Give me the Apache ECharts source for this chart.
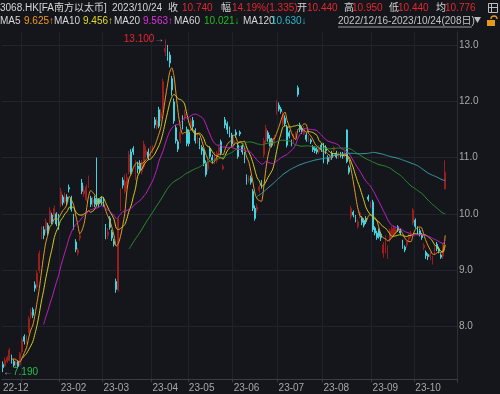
<!DOCTYPE html>
<html><head><meta charset="utf-8">
<script src="https://cdn.jsdelivr.net/npm/echarts@6/dist/echarts.min.js"></script>
<style>html,body{margin:0;padding:0;background:#14161c;}#c{width:500px;height:394px;}</style>
</head><body><div id="c"></div>
<script>
// month labels and number of trading days shown in each month
const monthLabels = ['22-12','23-01','23-02','23-03','23-04','23-05','23-06','23-07','23-08','23-09','23-10'];
const monthDays   = [9, 18, 20, 23, 17, 21, 21, 21, 23, 20, 15];
const hiddenMonthLabels = ['23-01'];
const yTicks = [8, 9, 10, 11, 12, 13];

const openP = [
7.33,7.30,7.38,7.40,7.47,7.38,7.32,7.38,7.32,
7.55,7.82,7.72,7.90,8.20,8.30,8.74,8.70,9.00,9.58,9.72,9.70,9.80,9.85,9.98,9.95,10.00,9.95,
10.18,10.30,10.22,10.30,10.47,10.28,9.95,9.50,9.30,9.57,10.55,10.35,10.25,10.51,10.28,10.20,10.28,10.26,10.24,10.26,
10.26,9.77,9.62,9.92,9.68,9.52,8.80,8.65,10.10,10.60,10.40,10.50,10.75,11.10,11.16,10.64,10.85,10.90,10.75,10.84,11.05,11.10,11.00,
11.14,11.67,11.55,11.85,11.70,11.85,12.88,12.95,12.82,12.40,11.99,11.53,11.28,11.30,11.70,11.70,11.50,
11.45,11.55,11.66,11.48,11.32,11.30,11.18,11.13,10.90,10.80,11.16,11.00,10.92,10.95,11.10,11.28,10.80,11.67,11.60,11.50,11.40,
11.22,11.45,11.22,11.45,11.20,11.05,10.66,10.60,10.64,10.40,10.10,10.07,10.42,10.55,11.05,11.30,11.44,11.34,11.30,11.25,11.81,
11.93,11.86,11.60,11.70,11.54,11.44,11.28,11.30,11.36,12.24,11.58,11.52,11.42,11.40,11.32,11.31,11.19,11.16,11.14,11.10,11.22,
11.22,11.18,11.00,10.96,11.08,11.13,11.08,11.02,11.06,11.05,11.05,11.49,10.82,9.95,10.03,9.95,9.77,9.95,9.93,9.88,9.92,10.30,10.12,
10.21,9.75,9.66,9.71,9.64,9.30,9.40,9.25,9.54,9.63,9.65,9.68,9.77,9.70,9.50,9.41,9.45,9.55,9.62,9.84,
9.89,9.75,9.70,9.62,9.40,9.32,9.28,9.24,9.18,9.34,9.46,9.38,9.27,9.25,10.44
];
const closeP = [
7.27,7.40,7.45,7.58,7.38,7.31,7.36,7.29,7.52,
7.76,7.74,7.80,8.14,8.25,8.20,8.68,8.95,9.30,9.70,9.62,9.86,9.66,10.06,9.86,10.10,9.82,9.78,
10.40,10.20,10.30,10.22,10.44,10.08,9.80,9.37,9.36,9.62,10.40,10.42,10.48,10.60,10.17,10.25,10.17,10.20,10.18,10.20,
10.19,9.58,9.68,9.76,9.57,9.46,8.66,9.92,10.39,10.51,10.57,10.65,11.05,10.74,11.10,10.90,10.80,10.78,10.88,11.24,11.12,11.00,11.14,
11.17,11.58,11.65,11.56,11.80,12.35,12.94,12.80,12.68,12.20,11.65,11.30,11.15,11.45,11.55,11.78,11.25,
11.25,11.65,11.55,11.30,11.36,11.20,11.12,10.90,10.70,10.92,11.02,10.95,11.05,11.08,11.18,11.08,10.84,11.58,11.50,11.40,11.24,
11.30,11.40,11.02,11.42,11.10,10.95,10.56,10.62,10.56,10.10,9.92,10.12,10.48,10.49,11.30,11.52,11.34,11.24,11.22,11.35,11.98,
11.86,11.82,11.78,11.60,11.22,11.38,11.24,11.36,11.40,12.12,11.50,11.46,11.52,11.32,11.36,11.28,11.14,11.12,11.10,11.18,11.14,
10.96,11.12,10.93,11.02,11.00,11.17,11.01,11.06,11.04,11.03,11.08,10.93,10.74,10.10,9.98,9.90,9.86,10.02,9.85,9.80,9.86,10.26,10.19,
9.72,9.66,9.58,9.60,9.58,9.45,9.58,9.40,9.70,9.74,9.76,9.72,9.71,9.66,9.42,9.36,9.50,9.60,9.66,10.07,
9.78,9.68,9.64,9.58,9.44,9.26,9.24,9.28,9.22,9.40,9.38,9.34,9.23,9.405,10.74
];
const lowP = [
7.19,7.28,7.35,7.38,7.34,7.28,7.28,7.26,7.30,
7.52,7.68,7.70,7.88,8.14,8.15,8.62,8.65,8.95,9.55,9.55,9.66,9.62,9.82,9.82,9.90,9.78,9.72,
10.12,10.15,10.18,10.15,10.38,10.04,9.72,9.32,9.26,9.52,10.35,10.30,10.22,10.46,10.12,10.12,10.12,10.14,10.12,10.15,
10.12,9.55,9.55,9.72,9.52,9.42,8.60,8.62,10.05,10.45,10.36,10.45,10.70,10.70,11.05,10.60,10.72,10.72,10.70,10.80,11.00,10.96,10.98,
11.08,11.52,11.50,11.52,11.65,11.80,12.80,12.72,12.60,12.10,11.60,11.25,11.10,11.25,11.50,11.65,11.20,
11.20,11.50,11.50,11.25,11.25,11.15,11.05,10.85,10.66,10.75,10.98,10.90,10.88,10.90,11.05,11.04,10.78,11.52,11.42,11.36,11.20,
11.18,11.35,10.98,11.38,11.05,10.90,10.52,10.55,10.52,10.05,9.88,10.02,10.38,10.45,11.00,11.25,11.28,11.20,11.18,11.20,11.76,
11.82,11.78,11.56,11.55,11.18,11.34,11.20,11.26,11.32,12.08,11.45,11.42,11.40,11.28,11.28,11.24,11.10,11.08,11.06,11.06,11.10,
10.90,11.06,10.88,10.92,10.96,11.10,10.98,10.98,11.00,10.98,11.00,10.90,10.70,9.90,9.94,9.85,9.74,9.92,9.80,9.76,9.82,10.22,10.10,
9.68,9.62,9.54,9.56,9.52,9.22,9.30,9.20,9.50,9.60,9.62,9.64,9.68,9.62,9.38,9.32,9.40,9.52,9.58,9.80,
9.74,9.64,9.60,9.54,9.36,9.20,9.18,9.18,9.10,9.28,9.34,9.30,9.20,9.20,10.44
];
const highP = [
7.38,7.45,7.48,7.62,7.50,7.42,7.40,7.40,7.55,
7.80,7.86,7.84,8.18,8.32,8.34,8.80,9.00,9.35,9.78,9.78,9.92,9.84,10.12,10.02,10.15,10.03,10.00,
10.46,10.34,10.38,10.35,10.52,10.32,10.00,9.55,9.40,9.66,10.62,10.50,10.52,10.68,10.32,10.30,10.32,11.00,10.28,10.30,
10.30,9.82,9.75,9.96,9.72,9.56,8.85,9.95,10.45,10.65,10.70,10.72,11.12,11.15,11.20,10.95,10.92,10.95,10.95,11.30,11.20,11.16,11.20,
11.22,11.72,11.72,11.90,11.86,12.40,13.10,13.00,12.88,12.45,12.05,11.58,11.32,11.50,11.75,11.85,11.55,
11.50,11.70,11.72,11.52,11.42,11.35,11.22,11.16,10.95,10.98,11.20,11.05,11.10,11.12,11.22,11.32,10.88,11.72,11.64,11.55,11.44,
11.36,11.50,11.26,11.48,11.25,11.10,10.70,10.68,10.68,10.44,10.15,10.18,10.52,10.60,11.35,11.58,11.48,11.40,11.35,11.40,12.02,
11.98,11.90,11.82,11.75,11.58,11.48,11.32,11.42,11.46,12.28,11.62,11.56,11.56,11.44,11.40,11.34,11.22,11.20,11.18,11.22,11.26,
11.26,11.22,11.04,11.06,11.12,11.20,11.12,11.10,11.10,11.10,11.12,11.50,10.86,10.14,10.06,9.98,9.90,10.05,9.96,9.92,9.96,10.34,10.22,
10.25,9.78,9.70,9.74,9.68,9.50,9.62,9.44,9.74,9.78,9.80,9.76,9.80,9.74,9.54,9.44,9.54,9.64,9.70,10.10,
9.92,9.78,9.74,9.66,9.48,9.35,9.30,9.32,9.26,9.44,9.50,9.42,9.30,9.48,10.95
];

// ---- build ----
const categories = [];
monthLabels.forEach((m, k) => { for (let d = 0; d < monthDays[k]; d++) categories.push(m + '#' + d); });
for (let i = 0; i < 5; i++) categories.push('pad#' + i);
const isMonthLabel = (i, v) => v.endsWith('#0') && !v.startsWith('pad') && !hiddenMonthLabels.includes(v.split('#')[0]);
const isMonthLine = (i, v) => i > 0 && v.endsWith('#0') && !v.startsWith('pad');

const candle = closeP.map((c, i) => [openP[i], c, lowP[i], highP[i]]);
function ma(n) {
  return closeP.map((c, i) => {
    if (i < n - 1) return null;
    let s = 0; for (let k = i - n + 1; k <= i; k++) s += closeP[k];
    return +(s / n).toFixed(3);
  });
}
const maDefs = [[5,'#e39a1e'],[10,'#d9cc1c'],[20,'#c320c3'],[60,'#2b8f2b'],[120,'#3a9ea6']];

const chart = echarts.init(document.getElementById('c'), null, {renderer:'canvas'});
const FF = '"Liberation Sans","Noto Sans CJK SC",sans-serif';
const W = '#d6d6d6', R = '#e8262e';
function t(x, y, text, fill) {
  return {type:'text', x:x, y:y, silent:true, style:{text:text, fill:fill, fontSize:10, fontFamily:FF, verticalAlign:'middle'}};
}
const header = [
  t(0,8,'3068.HK[FA南方以太币]',W), t(112,8,'2023/10/24',W), t(168,8,'收',W), t(182,8,'10.740',R),
  t(221,8,'幅',W), t(232,8,'14.19%(1.335)',R), t(297,8,'开',W), t(307,8,'10.440',R),
  t(344,8,'高',W), t(352,8,'10.950',R), t(389,8,'低',W), t(398,8,'10.440',R),
  t(436,8,'均',W), t(445,8,'10.776',R),
  t(0,21,'MA5',W), t(24,21,'9.625↑','#f09a22'), t(54,21,'MA10',W), t(83,21,'9.456↑','#e2dc22'),
  t(114,21,'MA20',W), t(143,21,'9.563↑','#e030e0'), t(174,21,'MA60',W), t(204,21,'10.021↓','#22bb22'),
  t(243,21,'MA120',W), t(271,21,'10.630↓','#2bb8c8'),
  t(338,21,'2022/12/16-2023/10/24(208日)','#c4c4c4'),
  {type:'line', silent:true, shape:{x1:338,y1:27,x2:472,y2:27}, style:{stroke:'#9a9a9a', lineWidth:1}},
  {type:'polygon', silent:true, shape:{points:[[474,17],[481,17],[477.5,23]]}, style:{fill:'#bdbdbd'}},
  {type:'rect', silent:true, shape:{x:488.5,y:3.5,width:9,height:9}, style:{fill:'none', stroke:'#bdbdbd', lineWidth:1}},
  {type:'line', silent:true, shape:{x1:491.5,y1:4,x2:491.5,y2:12}, style:{stroke:'#bdbdbd', lineWidth:1}},
  {type:'line', silent:true, shape:{x1:489,y1:7.5,x2:497,y2:7.5}, style:{stroke:'#bdbdbd', lineWidth:1}},
  {type:'rect', silent:true, shape:{x:487,y:20,width:8,height:6}, style:{fill:'#e39a1e'}},
  {type:'arc', silent:true, shape:{cx:494,cy:19,r:3,startAngle:Math.PI,endAngle:2*Math.PI}, style:{fill:'none', stroke:'#e39a1e', lineWidth:1.3}}
];

const series = [{
  type:'candlestick', data:candle, barWidth:'62%',
  itemStyle:{color:'#861818', color0:'#43d4e0', borderColor:'#9c1d1d', borderColor0:'#43d4e0', borderWidth:1},
  markPoint:{
    symbol:'circle', symbolSize:0, animation:false,
    data:[
      {type:'max', valueDim:'highest', label:{show:true, position:'left', distance:1,
        formatter: p => '{v|' + (+p.value).toFixed(3) + '}{a|→}',
        rich:{v:{color:'#e8262e', fontSize:10, fontFamily:FF}, a:{color:'#9a9a9a', fontSize:10, fontFamily:FF}}}},
      {type:'min', valueDim:'lowest', label:{show:true, position:'right', distance:0,
        formatter: p => '{a|←}{v|' + (+p.value).toFixed(3) + '}',
        rich:{v:{color:'#22c24a', fontSize:10, fontFamily:FF}, a:{color:'#9a9a9a', fontSize:10, fontFamily:FF}}}}
    ]
  }
}];
maDefs.forEach(([n, col]) => series.push({
  type:'line', data:ma(n), showSymbol:false, smooth:0.25, connectNulls:false,
  lineStyle:{color:col, width:1}, itemStyle:{color:col}, z:3, silent:true
}));

chart.setOption({
  backgroundColor:'#14161c',
  animation:false,
  grid:{left:1, right:43, top:32, bottom:11.2, containLabel:false},
  xAxis:{type:'category', data:categories, boundaryGap:true, offset:-4,
    axisLine:{show:true, lineStyle:{color:'#3a3d46'}},
    axisTick:{show:true, interval:isMonthLine, length:3, inside:false, lineStyle:{color:'#3a3d46'}},
    axisLabel:{show:true, interval:isMonthLabel, formatter: v => v.split('#')[0], align:'left', color:'#a8a8a8', fontSize:10, fontFamily:FF, margin:4},
    splitLine:{show:true, interval:isMonthLine, lineStyle:{color:'#1f222a', width:1}}
  },
  yAxis:{type:'value', position:'right', min:7, max:13.23, interval:1,
    axisLine:{show:true, lineStyle:{color:'#2c2f38'}}, axisTick:{show:false},
    axisLabel:{color:'#a8a8a8', fontSize:10, fontFamily:FF, margin:2, align:'left',
      formatter: v => yTicks.some(k => Math.abs(k - v) < 1e-6) ? v.toFixed(1) : ''},
    splitLine:{show:true, showMinLine:false, showMaxLine:false, lineStyle:{color:'#22252d'}}
  },
  series:series,
  graphic:header
});
</script></body></html>
